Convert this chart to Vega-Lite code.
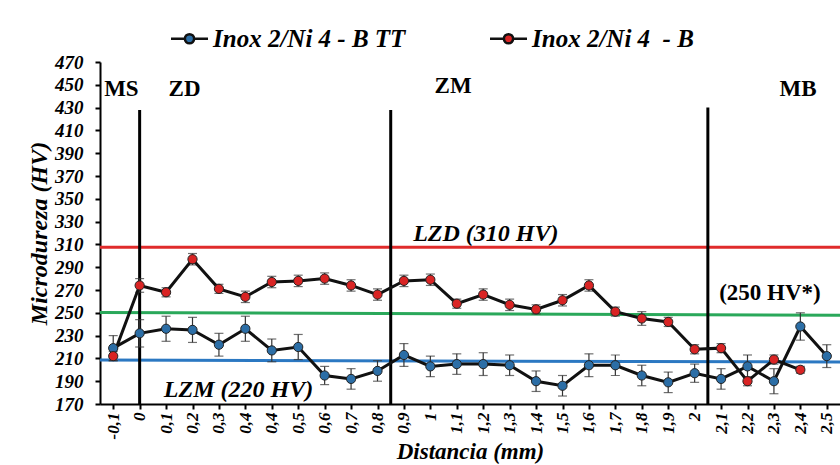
{
  "$schema": "https://vega.github.io/schema/vega-lite/v6.json",
  "autosize": {"type": "none"},
  "padding": {"left": 100, "top": 62, "right": 0, "bottom": 61},
  "width": 740,
  "height": 342,
  "background": "white",
  "config": {"view": {"stroke": null}, "font": "Liberation Serif"},
  "datasets": {
    "pts": [
      {"i": 0, "s": "Inox 2/Ni 4 - B TT", "v": 219, "e": 11},
      {"i": 1, "s": "Inox 2/Ni 4 - B TT", "v": 232, "e": 12},
      {"i": 2, "s": "Inox 2/Ni 4 - B TT", "v": 236, "e": 11},
      {"i": 3, "s": "Inox 2/Ni 4 - B TT", "v": 235, "e": 11},
      {"i": 4, "s": "Inox 2/Ni 4 - B TT", "v": 222, "e": 10},
      {"i": 5, "s": "Inox 2/Ni 4 - B TT", "v": 236, "e": 11},
      {"i": 6, "s": "Inox 2/Ni 4 - B TT", "v": 217, "e": 10},
      {"i": 7, "s": "Inox 2/Ni 4 - B TT", "v": 220, "e": 11},
      {"i": 8, "s": "Inox 2/Ni 4 - B TT", "v": 195, "e": 8},
      {"i": 9, "s": "Inox 2/Ni 4 - B TT", "v": 192, "e": 9},
      {"i": 10, "s": "Inox 2/Ni 4 - B TT", "v": 199, "e": 9},
      {"i": 11, "s": "Inox 2/Ni 4 - B TT", "v": 213, "e": 10},
      {"i": 12, "s": "Inox 2/Ni 4 - B TT", "v": 203, "e": 9},
      {"i": 13, "s": "Inox 2/Ni 4 - B TT", "v": 205, "e": 9},
      {"i": 14, "s": "Inox 2/Ni 4 - B TT", "v": 205, "e": 10},
      {"i": 15, "s": "Inox 2/Ni 4 - B TT", "v": 204, "e": 9},
      {"i": 16, "s": "Inox 2/Ni 4 - B TT", "v": 190, "e": 9},
      {"i": 17, "s": "Inox 2/Ni 4 - B TT", "v": 186, "e": 9},
      {"i": 18, "s": "Inox 2/Ni 4 - B TT", "v": 204, "e": 10},
      {"i": 19, "s": "Inox 2/Ni 4 - B TT", "v": 204, "e": 9},
      {"i": 20, "s": "Inox 2/Ni 4 - B TT", "v": 195, "e": 9},
      {"i": 21, "s": "Inox 2/Ni 4 - B TT", "v": 189, "e": 9},
      {"i": 22, "s": "Inox 2/Ni 4 - B TT", "v": 197, "e": 8},
      {"i": 23, "s": "Inox 2/Ni 4 - B TT", "v": 192, "e": 9},
      {"i": 24, "s": "Inox 2/Ni 4 - B TT", "v": 203, "e": 10},
      {"i": 25, "s": "Inox 2/Ni 4 - B TT", "v": 190, "e": 11},
      {"i": 26, "s": "Inox 2/Ni 4 - B TT", "v": 238, "e": 12},
      {"i": 27, "s": "Inox 2/Ni 4 - B TT", "v": 212, "e": 10},
      {"i": 0, "s": "Inox 2/Ni 4  - B", "v": 212, "e": 4},
      {"i": 1, "s": "Inox 2/Ni 4  - B", "v": 274, "e": 6},
      {"i": 2, "s": "Inox 2/Ni 4  - B", "v": 268, "e": 4},
      {"i": 3, "s": "Inox 2/Ni 4  - B", "v": 297, "e": 5},
      {"i": 4, "s": "Inox 2/Ni 4  - B", "v": 271, "e": 4},
      {"i": 5, "s": "Inox 2/Ni 4  - B", "v": 264, "e": 5},
      {"i": 6, "s": "Inox 2/Ni 4  - B", "v": 277, "e": 5},
      {"i": 7, "s": "Inox 2/Ni 4  - B", "v": 278, "e": 5},
      {"i": 8, "s": "Inox 2/Ni 4  - B", "v": 280, "e": 5},
      {"i": 9, "s": "Inox 2/Ni 4  - B", "v": 274, "e": 5},
      {"i": 10, "s": "Inox 2/Ni 4  - B", "v": 266, "e": 5},
      {"i": 11, "s": "Inox 2/Ni 4  - B", "v": 278, "e": 5},
      {"i": 12, "s": "Inox 2/Ni 4  - B", "v": 279, "e": 5},
      {"i": 13, "s": "Inox 2/Ni 4  - B", "v": 258, "e": 4},
      {"i": 14, "s": "Inox 2/Ni 4  - B", "v": 266, "e": 5},
      {"i": 15, "s": "Inox 2/Ni 4  - B", "v": 257, "e": 5},
      {"i": 16, "s": "Inox 2/Ni 4  - B", "v": 253, "e": 4},
      {"i": 17, "s": "Inox 2/Ni 4  - B", "v": 261, "e": 5},
      {"i": 18, "s": "Inox 2/Ni 4  - B", "v": 274, "e": 5},
      {"i": 19, "s": "Inox 2/Ni 4  - B", "v": 251, "e": 4},
      {"i": 20, "s": "Inox 2/Ni 4  - B", "v": 245, "e": 6},
      {"i": 21, "s": "Inox 2/Ni 4  - B", "v": 242, "e": 4},
      {"i": 22, "s": "Inox 2/Ni 4  - B", "v": 218, "e": 4},
      {"i": 23, "s": "Inox 2/Ni 4  - B", "v": 219, "e": 4},
      {"i": 24, "s": "Inox 2/Ni 4  - B", "v": 190, "e": 4},
      {"i": 25, "s": "Inox 2/Ni 4  - B", "v": 209, "e": 4},
      {"i": 26, "s": "Inox 2/Ni 4  - B", "v": 200, "e": 3}
    ]
  },
  "encoding": {
    "x": {
      "field": "i", "type": "quantitative",
      "scale": {"domain": [-0.5, 27.5], "nice": false, "zero": false},
      "axis": {
        "title": "Distancia (mm)",
        "values": [0,1,2,3,4,5,6,7,8,9,10,11,12,13,14,15,16,17,18,19,20,21,22,23,24,25,26,27],
        "labelExpr": "['-0,1','0','0,1','0,2','0,3','0,4','0,4','0,5','0,6','0,7','0,8','0,9','1','1,1','1,2','1,3','1,4','1,5','1,6','1,7','1,8','1,9','2','2,1','2,2','2,3','2,4','2,5'][datum.value]",
        "labelAngle": -90,
        "labelFont": "Liberation Serif", "labelFontSize": 17, "labelFontWeight": "bold", "labelFontStyle": "italic", "labelColor": "black",
        "labelPadding": 3,
        "titleFont": "Liberation Serif", "titleFontSize": 23, "titleFontWeight": "bold", "titleFontStyle": "italic", "titleColor": "black",
        "titlePadding": 2,
        "domainColor": "black", "domainWidth": 2,
        "tickColor": "black", "tickWidth": 2, "tickSize": 5,
        "grid": false
      }
    },
    "y": {
      "field": "v", "type": "quantitative",
      "scale": {"domain": [170, 470], "nice": false, "zero": false},
      "axis": {
        "title": "Microdureza (HV)",
        "values": [170,190,210,230,250,270,290,310,330,350,370,390,410,430,450,470],
        "labelFont": "Liberation Serif", "labelFontSize": 19, "labelFontWeight": "bold", "labelFontStyle": "italic", "labelColor": "black",
        "labelPadding": 12,
        "titleFont": "Liberation Serif", "titleFontSize": 24, "titleFontWeight": "bold", "titleFontStyle": "italic", "titleColor": "black",
        "titlePadding": 3,
        "domainColor": "black", "domainWidth": 2,
        "tickColor": "black", "tickWidth": 2, "tickSize": 5,
        "grid": false
      }
    }
  },
  "layer": [
    {
      "data": {"values": [{"x0": -0.5, "x1": 27.5, "y0": 307.5, "y1": 307.5}]},
      "mark": {"type": "rule", "color": "#e02b2b", "strokeWidth": 3},
      "encoding": {"x": {"field": "x0", "type": "quantitative"}, "x2": {"field": "x1"}, "y": {"field": "y0", "type": "quantitative"}, "y2": {"field": "y1"}}
    },
    {
      "data": {"values": [{"x0": -0.5, "x1": 27.5, "y0": 250.3, "y1": 247.8}]},
      "mark": {"type": "rule", "color": "#2aa85a", "strokeWidth": 3},
      "encoding": {"x": {"field": "x0", "type": "quantitative"}, "x2": {"field": "x1"}, "y": {"field": "y0", "type": "quantitative"}, "y2": {"field": "y1"}}
    },
    {
      "data": {"values": [{"x0": -0.5, "x1": 27.5, "y0": 208.5, "y1": 206.8}]},
      "mark": {"type": "rule", "color": "#2b78c2", "strokeWidth": 3},
      "encoding": {"x": {"field": "x0", "type": "quantitative"}, "x2": {"field": "x1"}, "y": {"field": "y0", "type": "quantitative"}, "y2": {"field": "y1"}}
    },
    {
      "data": {"values": [{"x0": 1, "lo": 170, "hi": 428}, {"x0": 10.5, "lo": 170, "hi": 428}, {"x0": 22.5, "lo": 170, "hi": 430}]},
      "mark": {"type": "rule", "color": "black", "strokeWidth": 3},
      "encoding": {"x": {"field": "x0", "type": "quantitative"}, "y": {"field": "lo", "type": "quantitative"}, "y2": {"field": "hi"}}
    },
    {
      "data": {"name": "pts"},
      "mark": {"type": "errorbar", "ticks": {"size": 9, "color": "#333333", "thickness": 1.2}, "rule": {"color": "#333333", "strokeWidth": 1.2}},
      "encoding": {"yError": {"field": "e"}, "detail": {"field": "s"}}
    },
    {
      "data": {"name": "pts"},
      "mark": {"type": "line", "color": "#111111", "strokeWidth": 3},
      "encoding": {"detail": {"field": "s"}}
    },
    {
      "data": {"name": "pts"},
      "mark": {"type": "point", "filled": true, "size": 85, "opacity": 1, "stroke": "#222222", "strokeWidth": 1},
      "encoding": {
        "fill": {
          "field": "s", "type": "nominal",
          "scale": {"domain": ["Inox 2/Ni 4 - B TT", "Inox 2/Ni 4  - B"], "range": ["#2c6ea6", "#d92424"]},
          "legend": {
            "title": null,
            "orient": "none", "direction": "horizontal",
            "legendX": 77, "legendY": -36,
            "symbolType": "M-2,0H-0.5M0.5,0H2M-0.5,0A0.5,0.5 0 1,0 0.5,0A0.5,0.5 0 1,0 -0.5,0Z",
            "symbolSize": 342, "symbolStrokeColor": "#111111", "symbolStrokeWidth": 2.5, "symbolOpacity": 1,
            "labelFont": "Liberation Serif", "labelFontSize": 25, "labelFontWeight": "bold", "labelFontStyle": "italic", "labelColor": "black",
            "labelOffset": 11, "labelLimit": 400, "columnPadding": 79,
            "labelExpr": "replace(datum.label, '4  -', '4\u00a0 -')"
          }
        }
      }
    },
    {
      "data": {"values": [
        {"x": 0.31, "y": 446.3, "t": "MS"},
        {"x": 2.7, "y": 446.3, "t": "ZD"},
        {"x": 12.86, "y": 449, "t": "ZM"},
        {"x": 25.91, "y": 446, "t": "MB"},
        {"x": 24.85, "y": 267, "t": "(250 HV*)"}
      ]},
      "mark": {"type": "text", "font": "Liberation Serif", "fontSize": 23, "fontWeight": "bold", "color": "black", "align": "center", "baseline": "middle"},
      "encoding": {"x": {"field": "x", "type": "quantitative"}, "y": {"field": "y", "type": "quantitative"}, "text": {"field": "t"}}
    },
    {
      "data": {"values": [
        {"x": 14.1, "y": 319.4, "t": "LZD (310 HV)"},
        {"x": 4.74, "y": 182.5, "t": "LZM (220 HV)"}
      ]},
      "mark": {"type": "text", "font": "Liberation Serif", "fontSize": 24, "fontWeight": "bold", "fontStyle": "italic", "color": "black", "align": "center", "baseline": "middle"},
      "encoding": {"x": {"field": "x", "type": "quantitative"}, "y": {"field": "y", "type": "quantitative"}, "text": {"field": "t"}}
    }
  ]
}
